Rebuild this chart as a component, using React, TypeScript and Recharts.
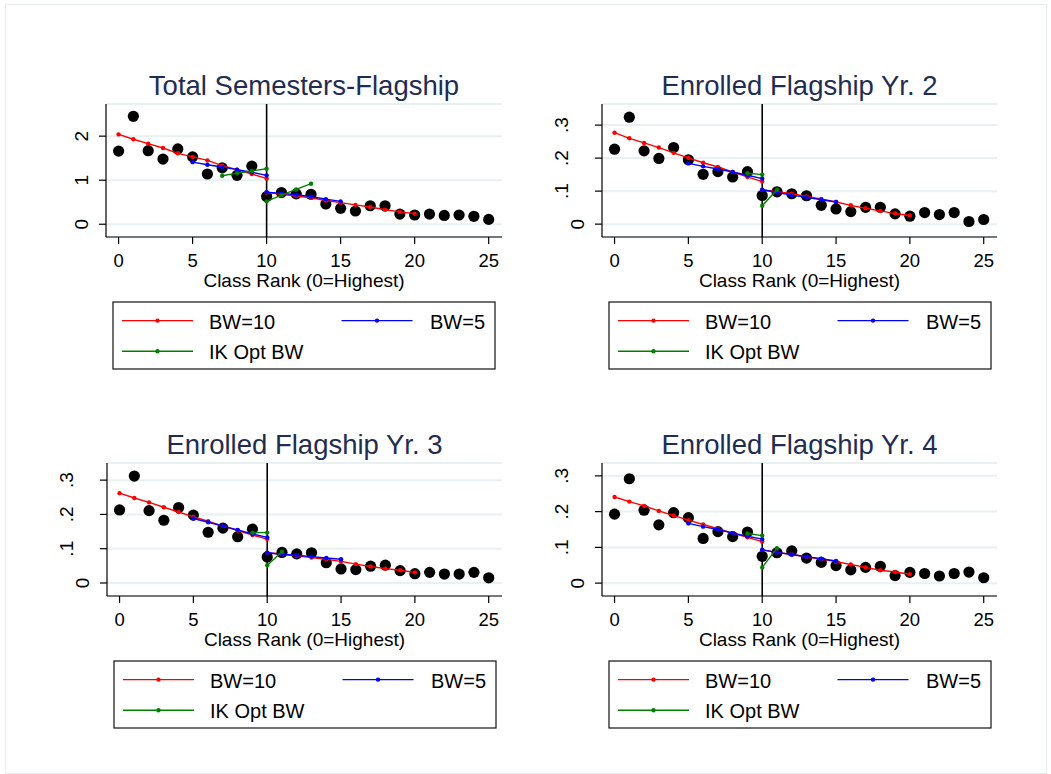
import React from 'react';
import { ComposedChart, Scatter, XAxis, YAxis, CartesianGrid, ReferenceLine } from 'recharts';

// ---------- shared categories / ticks ----------
const RANKS = [0, 1, 2, 3, 4, 5, 6, 7, 8, 9, 10, 11, 12, 13, 14, 15, 16, 17, 18, 19, 20, 21, 22, 23, 24, 25];
const BW10_LEFT_X = [0, 1, 2, 3, 4, 5, 6, 7, 8, 9, 10];
const BW10_RIGHT_X = [10, 11, 12, 13, 14, 15, 16, 17, 18, 19, 20];
const BW5_LEFT_X = [5, 6, 7, 8, 9, 10];
const BW5_RIGHT_X = [10, 11, 12, 13, 14, 15];
const IK_LEFT_X_SEM = [7, 8, 9, 10];
const IK_RIGHT_X_SEM = [10, 11, 12, 13];
const IK_LEFT_X = [9, 10];
const IK_RIGHT_X = [10, 11];

const X_TICKS = [0, 5, 10, 15, 20, 25];
const Y_TICKS_SEM = [0, 1, 2];
const Y_TICKS_SHARE = [0, 0.1, 0.2, 0.3];

const TITLES = ['Total Semesters-Flagship', 'Enrolled Flagship Yr. 2', 'Enrolled Flagship Yr. 3', 'Enrolled Flagship Yr. 4'];
const X_TITLE = 'Class Rank (0=Highest)';
const LEGEND_LABELS = ['BW=10', 'BW=5', 'IK Opt BW'];

// ---------- Panel 1: Total Semesters-Flagship ----------
const SEM_MEANS = [1.66, 2.45, 1.67, 1.48, 1.71, 1.53, 1.14, 1.28, 1.11, 1.32, 0.63, 0.72, 0.69, 0.68, 0.46, 0.36, 0.30, 0.42, 0.42, 0.23, 0.21, 0.23, 0.20, 0.21, 0.18, 0.11];
const SEM_BW10_LEFT = [2.04, 1.93, 1.83, 1.73, 1.61, 1.53, 1.45, 1.33, 1.24, 1.14, 1.04];
const SEM_BW10_RIGHT = [0.72, 0.68, 0.64, 0.60, 0.54, 0.49, 0.44, 0.39, 0.33, 0.28, 0.24];
const SEM_BW5_LEFT = [1.41, 1.35, 1.30, 1.24, 1.18, 1.11];
const SEM_BW5_RIGHT = [0.73, 0.70, 0.67, 0.63, 0.57, 0.52];
const SEM_IK_LEFT = [1.10, 1.16, 1.21, 1.26];
const SEM_IK_RIGHT = [0.52, 0.66, 0.79, 0.92];

// ---------- Panel 2: Enrolled Flagship Yr. 2 ----------
const YR2_MEANS = [0.227, 0.324, 0.222, 0.199, 0.232, 0.195, 0.151, 0.159, 0.143, 0.159, 0.087, 0.098, 0.092, 0.086, 0.057, 0.046, 0.038, 0.051, 0.051, 0.031, 0.024, 0.035, 0.029, 0.035, 0.008, 0.014];
const YR2_BW10_LEFT = [0.277, 0.260, 0.246, 0.232, 0.216, 0.201, 0.186, 0.173, 0.158, 0.143, 0.129];
const YR2_BW10_RIGHT = [0.104, 0.098, 0.092, 0.084, 0.076, 0.067, 0.057, 0.048, 0.040, 0.032, 0.026];
const YR2_BW5_LEFT = [0.184, 0.175, 0.167, 0.158, 0.148, 0.138];
const YR2_BW5_RIGHT = [0.104, 0.096, 0.088, 0.081, 0.074, 0.067];
const YR2_IK_LEFT = [0.154, 0.150];
const YR2_IK_RIGHT = [0.056, 0.104];

// ---------- Panel 3: Enrolled Flagship Yr. 3 ----------
const YR3_MEANS = [0.213, 0.312, 0.211, 0.183, 0.220, 0.198, 0.148, 0.160, 0.135, 0.157, 0.076, 0.089, 0.085, 0.088, 0.059, 0.041, 0.039, 0.049, 0.052, 0.036, 0.027, 0.031, 0.026, 0.026, 0.031, 0.015];
const YR3_BW10_LEFT = [0.262, 0.248, 0.235, 0.221, 0.207, 0.193, 0.180, 0.166, 0.153, 0.140, 0.128];
const YR3_BW10_RIGHT = [0.088, 0.084, 0.079, 0.074, 0.069, 0.063, 0.055, 0.048, 0.042, 0.037, 0.031];
const YR3_BW5_LEFT = [0.188, 0.177, 0.166, 0.155, 0.143, 0.133];
const YR3_BW5_RIGHT = [0.088, 0.084, 0.081, 0.077, 0.073, 0.069];
const YR3_IK_LEFT = [0.147, 0.147];
const YR3_IK_RIGHT = [0.052, 0.091];

// ---------- Panel 4: Enrolled Flagship Yr. 4 ----------
const YR4_MEANS = [0.193, 0.292, 0.204, 0.163, 0.197, 0.183, 0.125, 0.144, 0.130, 0.143, 0.075, 0.085, 0.090, 0.070, 0.058, 0.049, 0.037, 0.044, 0.047, 0.021, 0.030, 0.027, 0.020, 0.027, 0.031, 0.015];
const YR4_BW10_LEFT = [0.241, 0.228, 0.216, 0.202, 0.189, 0.176, 0.164, 0.152, 0.140, 0.128, 0.116];
const YR4_BW10_RIGHT = [0.093, 0.086, 0.080, 0.073, 0.067, 0.060, 0.052, 0.044, 0.036, 0.031, 0.025];
const YR4_BW5_LEFT = [0.167, 0.158, 0.150, 0.140, 0.131, 0.123];
const YR4_BW5_RIGHT = [0.093, 0.086, 0.080, 0.074, 0.068, 0.062];
const YR4_IK_LEFT = [0.139, 0.133];
const YR4_IK_RIGHT = [0.044, 0.098];

// ---------- styling ----------
const FONT = '"Liberation Sans", Arial, Helvetica, sans-serif';
const RED = '#ff0000';
const BLUE = '#0000ff';
const GREEN = '#008000';
const TITLE_COLOR = '#1f2d52';
const GRID = '#e8f0f2';
const Y_AXIS_W = 70;
const TOP_PAD = 10;
const RIGHT_PAD = 10;
const X_AXIS_H = 40;

const pts = (xs: number[], ys: number[]) => xs.map((x, i) => ({ x, y: ys[i] }));

const fmtSem = (v: number) => String(Math.round(v));
const fmtShare = (v: number) => (v === 0 ? '0' : '.' + Math.round(v * 10));

const makeYTick = (fmt: (v: number) => string) => (props: any) => {
  const { y, payload } = props;
  const label = fmt(payload.value);
  const off = 8 + 16.5 * label.length;
  const cx = Y_AXIS_W - off;
  const bx = cx + 7;
  return (
    <text
      x={bx}
      y={y}
      transform={`rotate(-90 ${bx} ${y})`}
      textAnchor="middle"
      fontSize={19}
      fontFamily={FONT}
      fill="#000"
    >
      {label}
    </text>
  );
};

const bigDot = (p: any) => <circle cx={p.cx} cy={p.cy} r={5.6} fill="#000" />;
const smallDot = (color: string) => (p: any) => <circle cx={p.cx} cy={p.cy} r={2.2} fill={color} />;

type PanelProps = {
  left: number;
  top: number;
  w: number;
  h: number;
  yDomain: [number, number];
  yTicks: number[];
  fmt: (v: number) => string;
  means: number[];
  bw10L: number[];
  bw10R: number[];
  bw5L: number[];
  bw5R: number[];
  ikLX: number[];
  ikL: number[];
  ikRX: number[];
  ikR: number[];
};

function Panel(p: PanelProps) {
  const width = Y_AXIS_W + p.w + RIGHT_PAD;
  const height = TOP_PAD + p.h + X_AXIS_H;
  const lineStyle = (c: string) => ({ stroke: c, strokeWidth: 1.4 });
  return (
    <div style={{ position: 'absolute', left: p.left - Y_AXIS_W, top: p.top - TOP_PAD }}>
      <ComposedChart
        width={width}
        height={height}
        margin={{ top: TOP_PAD, right: RIGHT_PAD, bottom: 0, left: 0 }}
      >
        <CartesianGrid vertical={false} horizontal stroke={GRID} strokeWidth={2} />
        <XAxis
          type="number"
          dataKey="x"
          domain={[-0.85, 25.9]}
          ticks={X_TICKS}
          interval={0}
          height={X_AXIS_H}
          tickSize={7}
          tickMargin={10}
          axisLine={{ stroke: '#000', strokeWidth: 1.2 }}
          tickLine={{ stroke: '#000', strokeWidth: 1.2 }}
          tick={{ fill: '#000', fontSize: 18.5, fontFamily: FONT }}
          allowDataOverflow
        />
        <YAxis
          type="number"
          dataKey="y"
          domain={p.yDomain}
          ticks={p.yTicks}
          interval={0}
          width={Y_AXIS_W}
          tickSize={7}
          tickMargin={2}
          axisLine={{ stroke: '#000', strokeWidth: 1.2 }}
          tickLine={{ stroke: '#000', strokeWidth: 1.2 }}
          tick={makeYTick(p.fmt)}
          allowDataOverflow
        />
        <ReferenceLine x={10} stroke="#000" strokeWidth={1.6} />
        <Scatter data={pts(RANKS, p.means)} shape={bigDot} isAnimationActive={false} />
        <Scatter data={pts(BW10_LEFT_X, p.bw10L)} line={lineStyle(RED)} shape={smallDot(RED)} isAnimationActive={false} />
        <Scatter data={pts(BW10_RIGHT_X, p.bw10R)} line={lineStyle(RED)} shape={smallDot(RED)} isAnimationActive={false} />
        <Scatter data={pts(BW5_LEFT_X, p.bw5L)} line={lineStyle(BLUE)} shape={smallDot(BLUE)} isAnimationActive={false} />
        <Scatter data={pts(BW5_RIGHT_X, p.bw5R)} line={lineStyle(BLUE)} shape={smallDot(BLUE)} isAnimationActive={false} />
        <Scatter data={pts(p.ikLX, p.ikL)} line={lineStyle(GREEN)} shape={smallDot(GREEN)} isAnimationActive={false} />
        <Scatter data={pts(p.ikRX, p.ikR)} line={lineStyle(GREEN)} shape={smallDot(GREEN)} isAnimationActive={false} />
      </ComposedChart>
    </div>
  );
}

function LegendBox({ x0, y0 }: { x0: number; y0: number }) {
  const row1 = y0 + 18.6;
  const row2 = y0 + 49.3;
  const item = (lx: number, ly: number, color: string, label: string, tx: number) => (
    <g key={label}>
      <line x1={lx} y1={ly} x2={lx + 71} y2={ly} stroke={color} strokeWidth={1.4} />
      <circle cx={lx + 35.5} cy={ly} r={2.2} fill={color} />
      <text x={tx} y={ly + 8} fontSize={20} fontFamily={FONT} fill="#000">
        {label}
      </text>
    </g>
  );
  return (
    <g>
      <rect x={x0} y={y0} width={382} height={67} fill="#fff" stroke="#111" strokeWidth={1.2} />
      {item(x0 + 9, row1, RED, LEGEND_LABELS[0], x0 + 96)}
      {item(x0 + 228.5, row1, BLUE, LEGEND_LABELS[1], x0 + 317)}
      {item(x0 + 9, row2, GREEN, LEGEND_LABELS[2], x0 + 96)}
    </g>
  );
}

const GEOM = [
  { left: 106, top: 104, w: 396, h: 133 },
  { left: 602, top: 104, w: 395, h: 133 },
  { left: 107, top: 463, w: 395, h: 133 },
  { left: 602, top: 463, w: 395, h: 133 },
];

export default function App() {
  const panels: PanelProps[] = [
    {
      ...GEOM[0], yDomain: [-0.29, 2.73], yTicks: Y_TICKS_SEM, fmt: fmtSem,
      means: SEM_MEANS, bw10L: SEM_BW10_LEFT, bw10R: SEM_BW10_RIGHT, bw5L: SEM_BW5_LEFT, bw5R: SEM_BW5_RIGHT,
      ikLX: IK_LEFT_X_SEM, ikL: SEM_IK_LEFT, ikRX: IK_RIGHT_X_SEM, ikR: SEM_IK_RIGHT,
    },
    {
      ...GEOM[1], yDomain: [-0.039, 0.364], yTicks: Y_TICKS_SHARE, fmt: fmtShare,
      means: YR2_MEANS, bw10L: YR2_BW10_LEFT, bw10R: YR2_BW10_RIGHT, bw5L: YR2_BW5_LEFT, bw5R: YR2_BW5_RIGHT,
      ikLX: IK_LEFT_X, ikL: YR2_IK_LEFT, ikRX: IK_RIGHT_X, ikR: YR2_IK_RIGHT,
    },
    {
      ...GEOM[2], yDomain: [-0.038, 0.35], yTicks: Y_TICKS_SHARE, fmt: fmtShare,
      means: YR3_MEANS, bw10L: YR3_BW10_LEFT, bw10R: YR3_BW10_RIGHT, bw5L: YR3_BW5_LEFT, bw5R: YR3_BW5_RIGHT,
      ikLX: IK_LEFT_X, ikL: YR3_IK_LEFT, ikRX: IK_RIGHT_X, ikR: YR3_IK_RIGHT,
    },
    {
      ...GEOM[3], yDomain: [-0.036, 0.336], yTicks: Y_TICKS_SHARE, fmt: fmtShare,
      means: YR4_MEANS, bw10L: YR4_BW10_LEFT, bw10R: YR4_BW10_RIGHT, bw5L: YR4_BW5_LEFT, bw5R: YR4_BW5_RIGHT,
      ikLX: IK_LEFT_X, ikL: YR4_IK_LEFT, ikRX: IK_RIGHT_X, ikR: YR4_IK_RIGHT,
    },
  ];

  return (
    <div style={{ position: 'absolute', left: 0, top: 0, width: 1051, height: 774, background: '#fff', overflow: 'hidden' }}>
      <div style={{ position: 'absolute', left: 5, top: 4, width: 1040, height: 768, border: '1px solid #e6eef0' }} />
      {panels.map((p, i) => (
        <Panel key={i} {...p} />
      ))}
      <svg width={1051} height={774} style={{ position: 'absolute', left: 0, top: 0, pointerEvents: 'none' }}>
        {GEOM.map((g, i) => (
          <g key={i}>
            <text x={g.left + g.w / 2} y={g.top - 9} textAnchor="middle" fontSize={27.5} fontFamily={FONT} fill={TITLE_COLOR}>
              {TITLES[i]}
            </text>
            <text x={g.left + g.w / 2} y={g.top + 183} textAnchor="middle" fontSize={19} fontFamily={FONT} fill="#000">
              {X_TITLE}
            </text>
            <LegendBox x0={g.left + 7} y0={g.top + 198} />
          </g>
        ))}
      </svg>
    </div>
  );
}
